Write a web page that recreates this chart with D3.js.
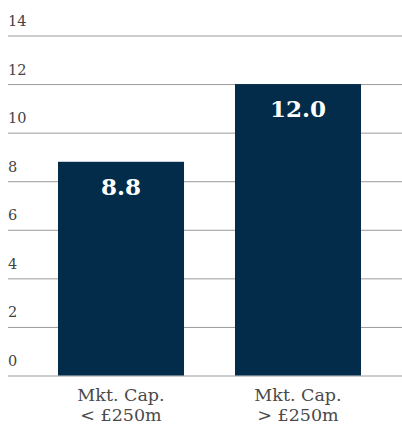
<!DOCTYPE html>
<html>
<head>
<meta charset="utf-8">
<script src="https://d3js.org/d3.v7.min.js"></script>
<style>
  body { margin: 0; background: #fff; }
</style>
</head>
<body>
<div id="chart"></div>
<script>
var categories = ["Mkt. Cap.|< £250m", "Mkt. Cap.|> £250m"];
var values = [8.8, 12.0];
var yTicks = [0, 2, 4, 6, 8, 10, 12, 14];

var width = 402, height = 427;

var x = d3.scaleBand()
  .domain(categories)
  .range([32.5, 386.5])
  .paddingInner(0.288)
  .paddingOuter(0.144);

var y = d3.scaleLinear()
  .domain([0, 14])
  .range([375.5, 35.5]);

var svg = d3.select("#chart").append("svg")
  .attr("width", width)
  .attr("height", height);

// gridlines + tick labels
var yAxis = d3.axisLeft(y)
  .tickValues(yTicks)
  .tickSize(-(width - 8))
  .tickFormat(d3.format("d"));

var gy = svg.append("g")
  .attr("transform", "translate(8,0)")
  .call(yAxis);
gy.select(".domain").remove();
gy.selectAll(".tick line")
  .attr("x1", 0)
  .attr("x2", width - 8)
  .attr("stroke", "#9a9a9a");
gy.selectAll(".tick text")
  .attr("x", 0)
  .attr("dy", -10)
  .attr("text-anchor", "start")
  .attr("fill", "#444")
  .style("font-family", "'DejaVu Serif', serif")
  .style("font-size", "14.5px");

// bars
svg.selectAll(".bar")
  .data(values)
  .enter().append("rect")
  .attr("class", "bar")
  .attr("x", function(d, i) { return x(categories[i]); })
  .attr("width", x.bandwidth())
  .attr("y", function(d) { return y(d); })
  .attr("height", function(d) { return y(0) - y(d); })
  .attr("fill", "#022c4a");

// value labels
svg.selectAll(".val")
  .data(values)
  .enter().append("text")
  .attr("class", "val")
  .attr("x", function(d, i) { return x(categories[i]) + x.bandwidth() / 2; })
  .attr("y", function(d) { return y(d) + 33; })
  .attr("text-anchor", "middle")
  .attr("fill", "#fff")
  .style("font-family", "'DejaVu Serif', serif")
  .style("font-weight", "bold")
  .style("font-size", "23px")
  .text(function(d) { return d.toFixed(1); });

// category labels
var cat = svg.selectAll(".cat")
  .data(categories)
  .enter().append("text")
  .attr("class", "cat")
  .attr("text-anchor", "middle")
  .attr("fill", "#4a4a4a")
  .style("font-family", "'DejaVu Serif', serif")
  .style("font-size", "17.5px");

cat.selectAll("tspan")
  .data(function(d) { return d.split("|").map(function(s) { return {s: s, c: d}; }); })
  .enter().append("tspan")
  .attr("x", function(d) { return x(d.c) + x.bandwidth() / 2; })
  .attr("y", function(d, i) { return 401 + i * 19.5; })
  .text(function(d) { return d.s; });
</script>
</body>
</html>
